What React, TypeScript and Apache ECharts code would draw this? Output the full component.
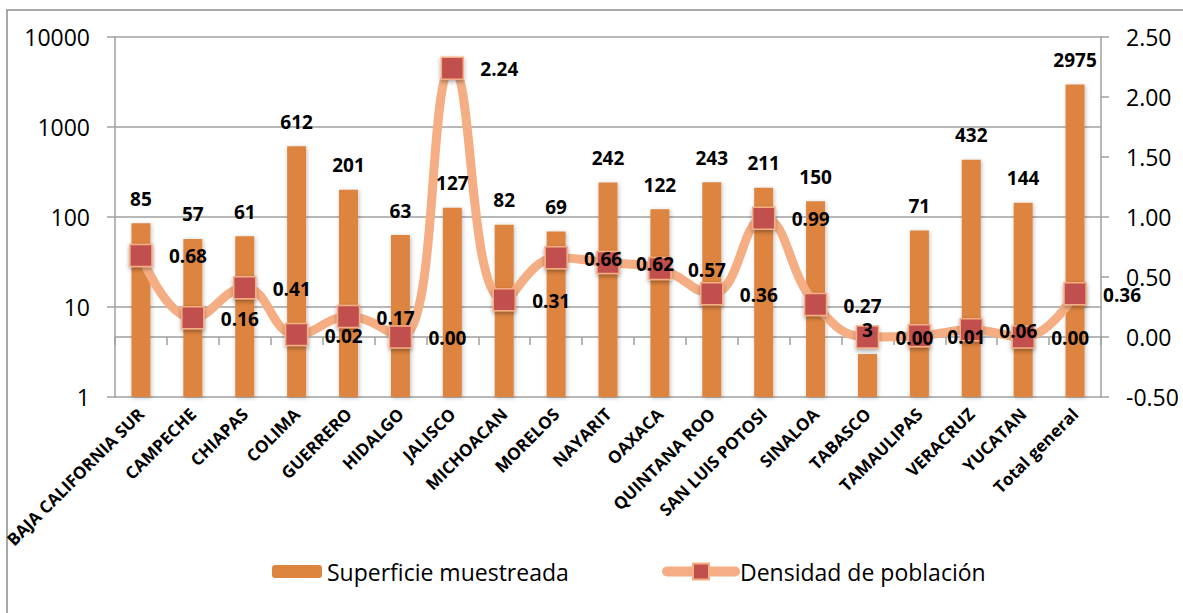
import React, { useEffect, useRef } from "react";
import * as echarts from "echarts";

const categories = [
  "BAJA CALIFORNIA SUR", "CAMPECHE", "CHIAPAS", "COLIMA", "GUERRERO", "HIDALGO",
  "JALISCO", "MICHOACAN", "MORELOS", "NAYARIT", "OAXACA", "QUINTANA ROO",
  "SAN LUIS POTOSI", "SINALOA", "TABASCO", "TAMAULIPAS", "VERACRUZ", "YUCATAN",
  "Total general",
];
const superficie = [85, 57, 61, 612, 201, 63, 127, 82, 69, 242, 122, 243, 211, 150, 3, 71, 432, 144, 2975];
const densidad = [0.68, 0.16, 0.41, 0.02, 0.17, 0.0, 2.24, 0.31, 0.66, 0.62, 0.57, 0.36, 0.99, 0.27, 0.0, 0.01, 0.06, 0.0, 0.36];
const leftAxisRange = [1, 10000];
const rightAxisRange = [-0.5, 2.5];
const rightAxisStep = 0.5;
const seriesNames = ["Superficie muestreada", "Densidad de población"];

const FONT = "'Open Sans', 'Noto Sans', sans-serif";
const BAR_COLOR = "#DD843F";
const LINE_COLOR = "#F5AE84";
const MARKER_COLOR = "#C0504D";
const GRID_COLOR = "#A0A0A0";

export default function App() {
  const ref = useRef<HTMLDivElement>(null);
  useEffect(() => {
    if (!ref.current) return;
    const chart = echarts.init(ref.current, undefined, { renderer: "svg" });
    const boldLabel = {
      fontSize: 19,
      fontWeight: "bold",
      color: "#000",
      fontFamily: FONT,
    };
    chart.setOption({
      animation: false,
      backgroundColor: "#ffffff",
      textStyle: { fontFamily: FONT },
      graphic: [
        {
          type: "rect",
          shape: { x: 7, y: 10, width: 1200, height: 700 },
          style: { fill: "none", stroke: "#8C8C8C", lineWidth: 1.5 },
          silent: true,
          z: -1,
        },
      ],
      grid: { left: 115, right: 82, top: 37, bottom: 216, containLabel: false },
      legend: [
        {
          data: [seriesNames[0]],
          left: 272,
          top: 560,
          padding: 0,
          itemWidth: 50,
          itemHeight: 13,
          itemStyle: { shadowBlur: 0, shadowOffsetX: 0, shadowOffsetY: 0 },
          textStyle: { fontSize: 23, color: "#000", fontFamily: FONT },
        },
        {
          data: [seriesNames[1]],
          left: 662,
          top: 560,
          padding: 0,
          itemWidth: 68,
          itemHeight: 20,
          lineStyle: { width: 10, cap: "round", color: LINE_COLOR },
          itemStyle: { shadowBlur: 0, shadowOffsetY: 0 },
          textStyle: { fontSize: 23, color: "#000", fontFamily: FONT },
        },
      ],
      xAxis: {
        type: "category",
        data: categories,
        boundaryGap: true,
        axisLine: { show: true, lineStyle: { color: GRID_COLOR, width: 1.5 } },
        axisTick: { show: true, length: 8, alignWithLabel: false, lineStyle: { color: GRID_COLOR, width: 1.5 } },
        axisLabel: {
          interval: 0,
          rotate: 45,
          margin: 14,
          fontSize: 17,
          fontWeight: "bold",
          color: "#000",
          fontFamily: FONT,
        },
      },
      yAxis: [
        {
          type: "log",
          logBase: 10,
          min: leftAxisRange[0],
          max: leftAxisRange[1],
          axisLine: { show: true, lineStyle: { color: GRID_COLOR, width: 1.5 } },
          axisTick: { show: true, length: 8, lineStyle: { color: GRID_COLOR, width: 1.5 } },
          splitLine: { show: true, lineStyle: { color: GRID_COLOR, width: 1.5 } },
          axisLabel: {
            fontSize: 23,
            color: "#000",
            margin: 25,
            fontFamily: FONT,
            formatter: (v: number) => String(Math.round(v)),
          },
        },
        {
          type: "value",
          min: rightAxisRange[0],
          max: rightAxisRange[1],
          interval: rightAxisStep,
          position: "right",
          axisLine: { show: true, lineStyle: { color: GRID_COLOR, width: 1.5 } },
          axisTick: { show: true, length: 8, lineStyle: { color: GRID_COLOR, width: 1.5 } },
          splitLine: { show: false },
          axisLabel: {
            fontSize: 23,
            color: "#000",
            margin: 25,
            fontFamily: FONT,
            formatter: (v: number) => v.toFixed(2),
          },
        },
      ],
      series: [
        {
          name: seriesNames[0],
          type: "bar",
          data: superficie,
          yAxisIndex: 0,
          barWidth: 19,
          itemStyle: {
            color: BAR_COLOR,
            shadowBlur: 4,
            shadowColor: "rgba(0,0,0,0.25)",
            shadowOffsetX: 1,
            shadowOffsetY: 1,
          },
          z: 2,
        },
        {
          name: seriesNames[1],
          type: "line",
          data: densidad,
          yAxisIndex: 1,
          smooth: 0.45,
          symbol: "rect",
          symbolSize: 22,
          lineStyle: { color: LINE_COLOR, width: 9, cap: "round", join: "round" },
          itemStyle: {
            color: MARKER_COLOR,
            borderColor: LINE_COLOR,
            borderWidth: 1.5,
            shadowBlur: 4,
            shadowColor: "rgba(0,0,0,0.35)",
            shadowOffsetY: 2,
          },
          label: {
            show: true,
            position: "inside",
            offset: [47, 1],
            ...boldLabel,
            formatter: (p: any) => Number(p.value).toFixed(2),
          },
          z: 3,
        },
        {
          name: "labels",
          type: "bar",
          data: superficie,
          yAxisIndex: 0,
          barWidth: 19,
          barGap: "-100%",
          silent: true,
          itemStyle: { color: "rgba(0,0,0,0)" },
          label: {
            show: true,
            position: "top",
            distance: 15,
            ...boldLabel,
          },
          z: 5,
        },
      ],
    });
    return () => chart.dispose();
  }, []);
  return (
    <div
      ref={ref}
      style={{ position: "fixed", left: 0, top: 0, width: 1183, height: 613, background: "#fff" }}
    />
  );
}
